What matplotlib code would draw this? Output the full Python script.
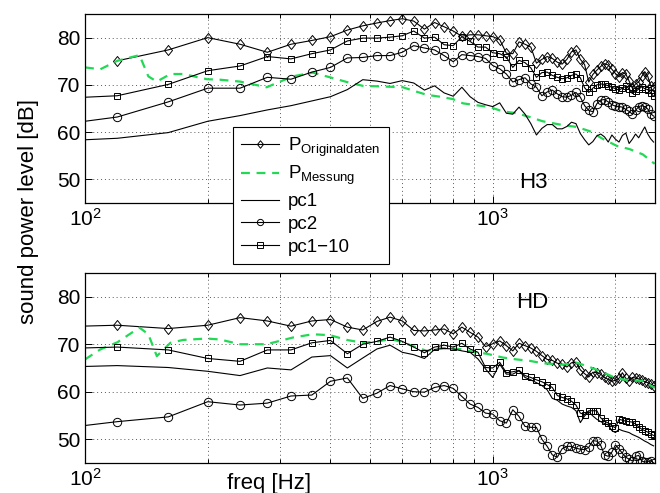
import numpy as np
import matplotlib
matplotlib.use('Agg')
import matplotlib.pyplot as plt
from matplotlib.path import Path

nan = np.nan

# frecuencias de las curvas con marcadores (Hz)
freq = [80, 120, 160, 200, 240, 280, 320, 360, 400, 440,
        480, 520, 560, 600, 640, 680, 720, 760, 800, 840,
        880, 920, 960, 1000, 1040, 1080, 1120, 1160, 1200, 1240,
        1280, 1320, 1360, 1400, 1440, 1480, 1520, 1560, 1600, 1640,
        1680, 1720, 1760, 1800, 1840, 1880, 1920, 1960, 2000, 2040,
        2080, 2120, 2160, 2200, 2240, 2280, 2320, 2360, 2400, 2440,
        2480]

# frecuencias de la medicion
mess_freq = [100, 109, 120, 136, 143, 150, 162, 174, 199, 214,
             240, 279, 323, 362, 399, 439, 480, 523, 562, 602,
             637, 689, 742, 798, 845, 893, 967, 1000, 1058, 1145,
             1232, 1326, 1485, 1607, 1729, 1860, 2014, 2167, 2332, 2495]

# H3
h3_orig = [nan, 75.1, 77.4, 80.0, 78.6, 76.9, 78.6, 79.4, 80.2, 81.6,
           82.5, 83.1, 83.6, 84.0, 83.5, 81.8, 83.2, 82.3, 81.4, 80.3,
           80.6, 80.6, 80.4, 80.2, 79.6, 76.7, 76.6, 79.1, 78.6, 78.0,
           74.6, 75.4, 76.0, 75.6, 74.8, 74.4, 75.4, 77.0, 77.4, 75.4,
           74.3, 70.6, 72.2, 73.1, 73.9, 74.5, 74.2, 73.3, 72.4, 71.7,
           72.6, 72.3, 70.8, 69.3, 70.2, 70.6, 71.8, 72.8, 71.8, 69.8,
           69.6]
h3_mess = [73.7, 73.3, 75.1, 76.3, 71.8, 70.7, 72.3, 72.3, 71.2, 71.1,
           70.7, 69.5, 71.8, 72.6, 71.6, 70.6, 69.8, 69.7, 69.6, 69.5,
           68.8, 67.9, 67.5, 67.0, 66.1, 65.8, 65.4, 65.1, 64.4, 64.0,
           63.2, 62.3, 61.5, 61.1, 60.2, 58.6, 57.1, 56.4, 55.3, 53.3]
h3_pc1 = [58.0, 58.7, 59.9, 62.3, 63.5, 64.7, 65.6, 66.6, 67.5, 69.0,
          71.1, 70.8, 70.3, 70.9, 70.4, 68.9, 69.8, 68.3, 67.6, 69.5,
          67.5, 66.3, 65.8, 65.4, 66.2, 64.0, 63.8, 65.3, 63.8, 61.8,
          59.4, 60.8, 61.6, 61.6, 60.7, 60.7, 61.2, 62.1, 61.8, 59.7,
          58.4, 57.3, 58.0, 59.2, 59.6, 59.0, 57.9, 59.4, 58.5, 57.9,
          59.3, 59.8, 57.6, 58.5, 59.6, 58.8, 60.0, 61.1, 59.6, 58.6,
          57.9]
h3_pc2 = [61.2, 63.2, 66.4, 69.3, 69.3, 71.6, 71.2, 72.7, 73.7, 75.7,
          75.8, 76.2, 76.2, 76.9, 78.3, 77.8, 77.4, 76.2, 74.9, 76.4,
          76.2, 76.0, 75.6, 74.1, 73.4, 72.3, 70.6, 71.1, 71.5, 70.2,
          69.5, 67.7, 68.5, 68.9, 68.1, 67.5, 67.4, 67.8, 68.4, 67.4,
          65.6, 64.6, 64.3, 66.0, 66.8, 66.9, 66.4, 65.8, 65.5, 65.4,
          65.3, 64.8, 64.4, 63.8, 64.6, 65.4, 65.6, 65.4, 64.9, 63.9,
          63.4]
h3_pc110 = [67.0, 67.7, 70.1, 73.0, 74.0, 76.0, 75.5, 76.6, 77.4, 79.3,
            79.9, 79.9, 80.1, 80.4, 81.4, 79.9, 80.1, 78.5, 78.3, 80.2,
            79.2, 78.0, 78.0, 76.8, 76.6, 75.9, 73.7, 75.2, 74.7, 73.6,
            71.6, 72.6, 72.7, 72.0, 71.6, 71.3, 71.5, 72.0, 72.3, 71.5,
            69.4, 68.4, 69.3, 70.0, 70.2, 70.1, 69.8, 69.5, 69.2, 68.9,
            69.3, 69.7, 69.2, 68.2, 68.6, 69.1, 69.6, 69.2, 69.0, 68.3,
            67.6]

# HD
hd_orig = [73.6, 74.0, 73.3, 74.0, 75.6, 74.9, 73.8, 74.9, 75.2, 73.6,
           73.0, 74.8, 75.7, 74.9, 72.9, 72.8, 73.0, 73.2, 72.2, 73.6,
           72.5, 71.5, 69.5, 70.1, 70.7, 69.7, 68.6, 70.2, 69.7, 69.2,
           68.5, 67.6, 66.8, 66.6, 66.0, 65.8, 65.2, 66.1, 66.2, 64.6,
           63.8, 63.1, 64.1, 64.0, 63.7, 63.0, 62.6, 62.2, 62.4, 62.8,
           64.0, 62.8, 62.3, 63.0, 62.9, 62.7, 62.5, 62.1, 61.9, 61.6,
           61.3]
hd_mess = [66.8, 68.9, 70.4, 73.5, 72.1, 67.5, 70.3, 70.9, 71.2, 71.0,
           70.0, 70.0, 71.4, 72.1, 71.9, 70.9, 70.3, 70.6, 71.1, 70.4,
           69.6, 68.6, 69.2, 69.1, 68.9, 68.4, 68.0, 67.7, 67.2, 66.8,
           66.5, 66.0, 65.7, 66.1, 65.2, 64.1, 62.8, 62.4, 62.3, 60.8]
hd_pc1 = [65.1, 65.5, 65.1, 64.3, 63.4, 65.0, 64.6, 67.3, 67.6, 65.0,
          67.1, 69.0, 69.8, 68.3, 67.8, 67.0, 68.9, 69.1, 69.0, 68.6,
          68.3, 66.9, 64.8, 63.0, 65.8, 63.7, 63.7, 64.4, 63.0, 62.5,
          61.9, 61.3, 60.4, 58.6, 58.2, 57.4, 57.0, 56.7, 56.0, 53.5,
          54.9, 55.8, 54.9, 54.2, 53.7, 53.3, 53.0, 51.8, 51.4, 52.1,
          51.8, 51.6, 51.4, 51.0, 50.7, 50.4, 50.0, 49.6, 49.3, 48.9,
          48.6]
hd_pc2 = [51.9, 53.7, 54.7, 57.9, 57.2, 57.6, 59.1, 59.3, 62.2, 62.9,
          58.6, 59.7, 61.3, 60.6, 60.0, 59.9, 60.9, 61.3, 60.7, 59.0,
          57.4, 56.7, 55.5, 55.3, 53.9, 53.4, 56.2, 54.8, 52.7, 52.5,
          52.5, 50.0, 48.5, 46.7, 46.2, 48.0, 48.5, 48.5, 48.1, 47.9,
          47.8, 48.3, 49.7, 49.6, 48.7, 46.7, 46.4, 47.3, 48.8, 48.0,
          47.0, 46.2, 45.8, 45.4, 46.4, 46.6, 45.4, 45.2, 45.3, 45.5,
          45.0]
hd_pc110 = [69.0, 69.4, 68.8, 67.0, 66.4, 68.8, 68.8, 70.3, 70.8, 68.0,
            70.0, 70.6, 71.5, 70.6, 69.4, 68.2, 69.4, 69.8, 69.4, 70.2,
            69.0, 68.3, 65.1, 65.0, 66.2, 64.0, 64.2, 64.5, 63.4, 63.0,
            62.5, 62.1, 61.5, 60.9, 59.2, 58.8, 58.5, 58.0, 57.2, 55.5,
            55.2, 56.0, 56.0, 56.0, 54.5, 53.8, 53.4, 52.8, 52.4, 54.2,
            54.0, 53.8, 53.7, 53.6, 53.2, 52.6, 52.1, 51.8, 51.5, 51.1,
            50.8]

etiquetas = [r'$\mathregular{P_{Originaldaten}}$', r'$\mathregular{P_{Messung}}$',
             'pc1', 'pc2', 'pc1\u221210']

plt.rcParams['font.family'] = ['Liberation Sans', 'DejaVu Sans']
plt.rcParams['mathtext.fontset'] = 'custom'
plt.rcParams['mathtext.rm'] = 'Liberation Sans'
plt.rcParams['mathtext.it'] = 'Liberation Sans:italic'

verde = '#22d955'
# rombo como el de MATLAB (un poco mas alto que ancho)
rombo = Path([(0, 1), (0.8, 0), (0, -1), (-0.8, 0), (0, 1)],
             [Path.MOVETO, Path.LINETO, Path.LINETO, Path.LINETO, Path.CLOSEPOLY])


def dibujar_panel(ax, orig, mess, pc1, pc2, pc110, nombre, pos_nombre):
    lw = 0.8
    ax.plot(freq, orig, 'k-', marker=rombo, ms=7.2, mfc='none', mew=0.7, lw=lw, label=etiquetas[0])
    ax.plot(mess_freq, mess, color=verde, ls=(0, (4, 3)), lw=1.6, label=etiquetas[1])
    ax.plot(freq, pc1, 'k-', lw=lw, label=etiquetas[2])
    ax.plot(freq, pc2, 'k-', marker='o', ms=6, mfc='none', mew=0.7, lw=lw, label=etiquetas[3])
    ax.plot(freq, pc110, 'k-', marker='s', ms=5, mfc='none', mew=0.7, lw=lw, label=etiquetas[4])
    ax.set_xscale('log')
    ax.set_xlim(100, 2500)
    ax.set_ylim(45, 85)
    ax.set_yticks([50, 60, 70, 80])
    ax.set_xticks([100, 1000], [r'$\mathregular{10^{2}}$', r'$\mathregular{10^{3}}$'])
    ax.set_xticks([200, 300, 400, 500, 600, 700, 800, 900, 2000], minor=True)
    ax.xaxis.set_minor_formatter(matplotlib.ticker.NullFormatter())
    ax.tick_params(which='both', direction='in', top=True, right=True, labelsize=15, width=0.7)
    ax.tick_params(which='major', length=5)
    ax.tick_params(which='minor', length=3)
    ax.grid(True, which='major', ls=(0, (1, 3)), color='0.35', lw=0.7)
    ax.xaxis.grid(True, which='minor', ls=(0, (1, 3)), color='0.35', lw=0.7)
    for s in ax.spines.values():
        s.set_linewidth(0.9)
    ax.text(pos_nombre[0], pos_nombre[1], nombre, fontsize=16, ha='left', va='baseline')


fig = plt.figure(figsize=(6.6, 4.93), dpi=100)
ax1 = fig.add_axes([0.1288, 0.5882, 0.8636, 0.3834])
ax2 = fig.add_axes([0.1288, 0.0609, 0.8636, 0.3854])

dibujar_panel(ax1, h3_orig, h3_mess, h3_pc1, h3_pc2, h3_pc110, 'H3', (1164, 48.2))
dibujar_panel(ax2, hd_orig, hd_mess, hd_pc1, hd_pc2, hd_pc110, 'HD', (1144, 77.7))

leg = ax1.legend(loc='upper left', bbox_to_anchor=(0.2596, 0.4021), borderaxespad=0,
                 fontsize=13.5, fancybox=False, edgecolor='k', framealpha=1, markerscale=0.75,
                 handlelength=2.0, handletextpad=0.5, borderpad=0.45, labelspacing=0.3)
leg.get_frame().set_linewidth(0.8)

fig.text(29 / 660, 1 - 212 / 493, 'sound power level [dB]', rotation=90,
         ha='center', va='center', fontsize=16)
fig.text(269 / 660, 1 - 489 / 493, 'freq [Hz]', ha='center', va='baseline', fontsize=16)

fig.savefig('out.png', dpi=100)
